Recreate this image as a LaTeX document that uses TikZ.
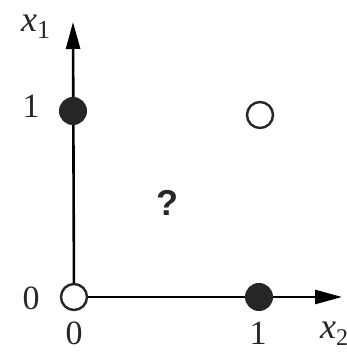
\documentclass[tikz,border=0pt]{standalone}
\usepackage{fontspec}
\setmainfont{Liberation Serif}
\newfontfamily\qfont{Liberation Sans}
\usetikzlibrary{arrows.meta}
\begin{document}
\begin{tikzpicture}[x=1pt,y=1pt,
  axis/.style={line width=2.6pt,-{Triangle[length=27pt,width=14pt]}},
  filledpt/.style={circle,fill=black!85,draw=black!85,line width=1pt,minimum size=27pt,inner sep=0pt},
  openpt/.style={circle,fill=white,draw=black!85,line width=2.4pt,minimum size=26pt,inner sep=0pt},
  lab/.style={font=\fontsize{34}{34}\selectfont,text=black!85,inner sep=0pt},
  varlab/.style={font=\fontsize{36}{36}\selectfont\itshape,text=black!85,inner sep=0pt,anchor=base west}]
\useasboundingbox (0,0) rectangle (347,353);
\coordinate (o) at (74,56);
\coordinate (ytip) at (73,331);
\coordinate (xtip) at (342,56);
\draw[axis] (o) -- (ytip);
\draw[axis] (o) -- (xtip);
\node[openpt] (p00) at (o) {};
\node[filledpt] (p01) at (73,242) {};
\node[filledpt] (p10) at (259,56) {};
\node[openpt] (p11) at (260,238) {};
\node[varlab] (lx1) at (21,321) {x\raisebox{-7pt}{\upshape\fontsize{26}{26}\selectfont 1}};
\node[lab] (l1y) at (31,247) {1};
\node[lab] (l0y) at (31,55) {0};
\node[lab] (l0x) at (74,20) {0};
\node[lab] (l1x) at (258,20) {1};
\node[varlab] (lx2) at (320,14) {x\raisebox{-6pt}{\upshape\fontsize{24}{24}\selectfont 2}};
\node[font=\qfont\bfseries\fontsize{36}{36}\selectfont,text=black!85,inner sep=0pt] (q) at (167,150) {?};
\end{tikzpicture}
\end{document}
